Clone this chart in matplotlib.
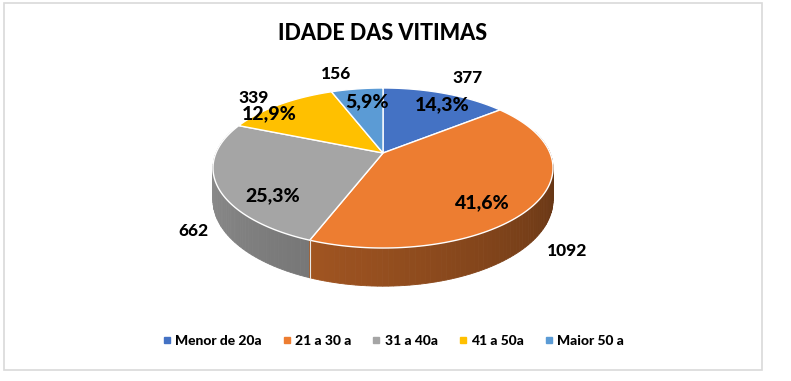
import matplotlib
matplotlib.use("Agg")
import matplotlib.pyplot as plt
import numpy as np
from matplotlib.patches import Polygon, Rectangle
from matplotlib.lines import Line2D
from matplotlib.colors import to_rgb

# data
categories = ["Menor de 20a", "21 a 30 a", "31 a 40a", "41 a 50a", "Maior 50 a"]
counts = [377, 1092, 662, 339, 156]
shares = [14.3, 41.6, 25.3, 12.9, 5.9]
title = "IDADE DAS VITIMAS"

colors = ["#4472C4", "#ED7D31", "#A5A5A5", "#FFC000", "#5B9BD5"]
# wall shading factor at start / end angle of each slice
wall_shade = [(0.45, 0.6), (0.30, 0.68), (0.72, 0.92), (0.55, 0.75), (0.55, 0.75)]
# label placement: (angle shift in deg, radius)
pct_pos = [(3.9, 0.81), (11.0, 0.78), (-17.0, 0.78), (-9.0, 0.94), (2.4, 0.76)]
cnt_pos = [(1.9, 1.34), (12.7, 1.36), (-18.6, 1.28), (-3.0, 1.21), (-4.8, 1.31)]

W, Hpx = 791, 381
CX, CY = 383, 153      # centre of the top face on screen
R, A, B = 167, 77.2, 0.1875
DEPTH = 31

def proj(theta, r=1.0, z=0.0):
    u = r * np.sin(theta)
    v = -r * np.cos(theta)
    d = 1 - B * v
    return CX + R * u / d, CY + (A * v + DEPTH * z) / d

fig = plt.figure(figsize=(W / 100, Hpx / 100), dpi=100)
ax = fig.add_axes([0, 0, 1, 1])
ax.set_xlim(0, W)
ax.set_ylim(Hpx, 0)
ax.axis("off")

ax.add_patch(Rectangle((4, 3), 758, 367, fill=False, ec="#D9D9D9", lw=1.2))

bounds = np.concatenate([[0], np.cumsum(shares)]) / sum(shares) * 2 * np.pi

# side walls, back to front
segs = []
for i in range(len(shares)):
    t0, t1 = bounds[i], bounds[i + 1]
    n = max(int(np.degrees(t1 - t0) / 1.5), 2)
    ts = np.linspace(t0, t1, n + 1)
    for a, b in zip(ts[:-1], ts[1:]):
        if -np.cos((a + b) / 2) < -0.3:
            continue
        f = wall_shade[i][0] + (wall_shade[i][1] - wall_shade[i][0]) * ((a + b) / 2 - t0) / (t1 - t0)
        c = tuple(np.clip(np.array(to_rgb(colors[i])) * f, 0, 1))
        segs.append((-np.cos((a + b) / 2), a, b, c))
segs.sort(key=lambda s: s[0])
for _, a, b, c in segs:
    tt = np.linspace(a, b, 3)
    xt, yt = proj(tt)
    xb, yb = proj(tt[::-1], z=1)
    pts = np.column_stack([np.concatenate([xt, xb]), np.concatenate([yt, yb])])
    ax.add_patch(Polygon(pts, closed=True, fc=c, ec=c, lw=0.6))

# boundary line between walls at visible slice edges
for t in bounds[1:-1]:
    if -np.cos(t) > 0.2:
        x0, y0 = proj(t)
        x1, y1 = proj(t, z=1)
        ax.plot([x0, x1], [y0, y1], color="#E8E8E8", lw=0.8)

# top faces
for i in range(len(shares)):
    ts = np.linspace(bounds[i], bounds[i + 1], 120)
    xs, ys = proj(ts)
    pts = np.column_stack([np.concatenate([[CX], xs]), np.concatenate([[CY], ys])])
    ax.add_patch(Polygon(pts, closed=True, fc=colors[i], ec="white", lw=1.0))

font = "Lato"
for i in range(len(shares)):
    mid = (bounds[i] + bounds[i + 1]) / 2
    x, y = proj(mid + np.radians(pct_pos[i][0]), r=pct_pos[i][1])
    ax.text(x, y, f"{shares[i]:.1f}".replace(".", ",") + "%", ha="center", va="center",
            fontsize=14, fontweight=900, family=font, color="black")
    x, y = proj(mid + np.radians(cnt_pos[i][0]), r=cnt_pos[i][1])
    ax.text(x, y, str(counts[i]), ha="center", va="center",
            fontsize=12.5, fontweight=900, family=font, color="black")

ax.text(383, 33, title, ha="center", va="center", fontsize=15.5, fontweight=900,
        family=font, color="black")

handles = [Line2D([], [], ls="none", marker="s", markersize=4.5, color=c) for c in colors]
leg = ax.legend(handles, categories, loc="center", bbox_to_anchor=(392 / W, 1 - 341 / Hpx),
                ncol=5, frameon=False, handletextpad=0.1, columnspacing=1.3,
                handlelength=1.0, prop={"family": font, "weight": 900, "size": 10})

fig.savefig("out.png", dpi=100)
